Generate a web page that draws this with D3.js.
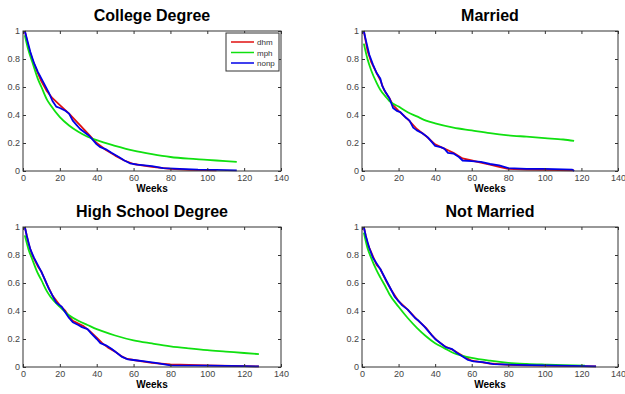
<!DOCTYPE html>
<html>
<head>
<meta charset="utf-8">
<script src="https://cdn.jsdelivr.net/npm/d3@7"></script>
<style>
  body { margin: 0; background: #fff; }
  text { font-family: Arial, "Liberation Sans", sans-serif; }
</style>
</head>
<body>
<script>
// survival curves: [week, share still unemployed]
var xTicks = [0, 20, 40, 60, 80, 100, 120, 140];
var yTicks = [0, 0.2, 0.4, 0.6, 0.8, 1];
var seriesNames = ['dhm', 'mph', 'nonp'];

var collegeDhm = [[1,1],[3,0.88],[5,0.8],[8,0.7],[10,0.64],[13,0.57],[16,0.52],[20,0.47],[25,0.41],[30,0.34],[35,0.27],[40,0.2],[45,0.15],[50,0.11],[55,0.075],[60,0.05],[70,0.03],[80,0.015],[90,0.008],[105,0.005]];
var collegeMph = [[1,0.97],[3,0.86],[5,0.78],[8,0.66],[10,0.6],[13,0.51],[15,0.47],[20,0.385],[25,0.325],[30,0.28],[35,0.245],[40,0.22],[50,0.18],[60,0.145],[70,0.12],[80,0.1],[90,0.088],[100,0.08],[110,0.07],[116,0.065]];
var collegeNonp = [[1,1],[2,0.95],[4,0.85],[6,0.77],[8,0.71],[10,0.66],[12,0.61],[14,0.56],[16,0.5],[18,0.46],[20,0.45],[23,0.43],[25,0.41],[27,0.36],[29,0.33],[31,0.3],[33,0.28],[36,0.25],[38,0.22],[40,0.19],[42,0.17],[45,0.155],[48,0.13],[52,0.1],[55,0.075],[58,0.055],[62,0.045],[70,0.035],[76,0.02],[85,0.015],[95,0.01],[105,0.008],[116,0.005]];

var marriedDhm = [[1,1],[3,0.86],[5,0.78],[8,0.7],[10,0.65],[12,0.58],[15,0.52],[17,0.47],[20,0.43],[25,0.37],[30,0.3],[35,0.25],[40,0.19],[45,0.16],[50,0.13],[55,0.09],[60,0.075],[65,0.06],[70,0.045],[75,0.03],[80,0.015],[90,0.01],[100,0.008],[116,0.005]];
var marriedMph = [[1,0.91],[3,0.8],[5,0.72],[8,0.63],[10,0.58],[13,0.53],[15,0.5],[20,0.46],[25,0.42],[30,0.39],[35,0.36],[40,0.34],[50,0.31],[60,0.29],[70,0.27],[80,0.255],[90,0.245],[100,0.235],[110,0.225],[116,0.215]];
var marriedNonp = [[1,1],[2,0.94],[4,0.83],[6,0.76],[8,0.7],[10,0.66],[11,0.61],[13,0.56],[15,0.52],[17,0.45],[19,0.43],[21,0.42],[24,0.38],[26,0.36],[28,0.31],[30,0.29],[33,0.27],[36,0.24],[38,0.21],[40,0.18],[43,0.17],[45,0.16],[47,0.13],[50,0.125],[53,0.1],[55,0.075],[60,0.07],[65,0.065],[70,0.05],[75,0.04],[80,0.02],[90,0.015],[100,0.015],[115,0.01],[116,0]];

var highDhm = [[1,1],[3,0.88],[5,0.8],[8,0.72],[10,0.68],[13,0.59],[16,0.51],[20,0.44],[23,0.4],[25,0.36],[27,0.33],[30,0.31],[33,0.29],[36,0.26],[40,0.21],[43,0.17],[46,0.14],[50,0.11],[53,0.08],[56,0.06],[60,0.05],[70,0.03],[80,0.018],[100,0.012],[120,0.006],[128,0.004]];
var highMph = [[1,0.94],[3,0.84],[5,0.77],[8,0.67],[10,0.62],[13,0.54],[15,0.5],[20,0.43],[25,0.37],[30,0.33],[35,0.3],[40,0.27],[50,0.225],[60,0.19],[70,0.168],[80,0.148],[90,0.133],[100,0.12],[110,0.11],[120,0.1],[128,0.092]];
var highNonp = [[1,1],[2,0.94],[4,0.84],[6,0.78],[8,0.73],[10,0.68],[12,0.62],[14,0.56],[16,0.51],[18,0.46],[21,0.43],[23,0.39],[25,0.35],[27,0.32],[30,0.3],[32,0.285],[35,0.27],[37,0.24],[40,0.2],[42,0.17],[45,0.155],[48,0.13],[51,0.1],[54,0.07],[57,0.055],[60,0.05],[66,0.04],[72,0.03],[80,0.012],[100,0.01],[120,0.006],[128,0.004]];

var singleDhm = [[1,1],[3,0.88],[5,0.82],[8,0.73],[10,0.7],[13,0.62],[16,0.55],[20,0.47],[25,0.41],[30,0.34],[35,0.28],[38,0.23],[41,0.19],[45,0.15],[50,0.12],[55,0.08],[60,0.045],[65,0.035],[70,0.025],[80,0.015],[90,0.012],[100,0.01],[110,0.008],[128,0.005]];
var singleMph = [[1,0.96],[3,0.85],[5,0.78],[8,0.69],[10,0.64],[13,0.57],[15,0.52],[20,0.43],[25,0.35],[30,0.28],[35,0.22],[40,0.17],[45,0.135],[50,0.1],[55,0.08],[60,0.065],[70,0.045],[80,0.03],[90,0.022],[100,0.017],[110,0.013],[122,0.01]];
var singleNonp = [[1,1],[2,0.94],[4,0.85],[6,0.78],[8,0.74],[10,0.7],[12,0.65],[14,0.6],[16,0.55],[18,0.5],[20,0.47],[22,0.44],[25,0.41],[27,0.38],[29,0.35],[31,0.33],[34,0.29],[36,0.26],[38,0.23],[40,0.2],[43,0.17],[46,0.14],[49,0.13],[52,0.1],[55,0.075],[58,0.05],[61,0.04],[66,0.035],[72,0.02],[85,0.015],[100,0.012],[115,0.008],[128,0.005]];

var panelTitles = ['College Degree', 'Married', 'High School Degree', 'Not Married'];
var panelSeries = [
  [collegeDhm, collegeMph, collegeNonp],
  [marriedDhm, marriedMph, marriedNonp],
  [highDhm, highMph, highNonp],
  [singleDhm, singleMph, singleNonp]
];

var colors = { dhm: '#e01010', mph: '#10e010', nonp: '#0000e8' };

// panel boxes (left, top, right, bottom) in page pixels
var boxes = [
  [23, 31, 281, 171],
  [362, 31, 618, 171],
  [23, 227, 281, 367],
  [362, 227, 618, 367]
];

var svg = d3.select('body').append('svg').attr('width', 625).attr('height', 394);

panelTitles.forEach(function(title, i) {
  var b = boxes[i];
  var x = d3.scaleLinear().domain([0, 140]).range([b[0], b[2]]);
  var y = d3.scaleLinear().domain([0, 1]).range([b[3], b[1]]);
  var g = svg.append('g');

  g.append('rect').attr('x', b[0]).attr('y', b[1])
    .attr('width', b[2] - b[0]).attr('height', b[3] - b[1])
    .attr('fill', '#fff');

  panelSeries[i].forEach(function(pts, k) {
    var name = seriesNames[k];
    // mph is a fitted curve, so draw it smooth; the other two stay jagged
    var line = d3.line()
      .x(function(d) { return x(d[0]); })
      .y(function(d) { return y(d[1]); })
      .curve(name === 'mph' ? d3.curveMonotoneX : d3.curveLinear);
    g.append('path').datum(pts)
      .attr('d', line)
      .attr('fill', 'none')
      .attr('stroke', colors[name])
      .attr('stroke-width', 1.8)
      .attr('stroke-linejoin', 'round');
  });

  // matlab style inward ticks on all four sides
  var fmt = function(d) { return String(d); };
  var ax = [
    g.append('g').attr('transform', 'translate(0,' + b[3] + ')')
      .call(d3.axisBottom(x).tickValues(xTicks).tickSize(-3).tickPadding(4).tickFormat(fmt)),
    g.append('g').attr('transform', 'translate(' + b[0] + ',0)')
      .call(d3.axisLeft(y).tickValues(yTicks).tickSize(-3).tickPadding(3).tickFormat(fmt)),
    g.append('g').attr('transform', 'translate(0,' + b[1] + ')')
      .call(d3.axisTop(x).tickValues(xTicks).tickSize(-3).tickFormat('')),
    g.append('g').attr('transform', 'translate(' + b[2] + ',0)')
      .call(d3.axisRight(y).tickValues(yTicks).tickSize(-3).tickFormat(''))
  ];
  ax.forEach(function(a) {
    a.select('.domain').remove();
    a.selectAll('line').attr('stroke', '#333');
    a.selectAll('text').attr('fill', '#444').style('font-size', '9px')
      .style('font-family', 'Arial, "Liberation Sans", sans-serif');
  });

  g.append('rect').attr('x', b[0]).attr('y', b[1])
    .attr('width', b[2] - b[0]).attr('height', b[3] - b[1])
    .attr('fill', 'none').attr('stroke', '#333').attr('stroke-width', 1);

  g.append('text').attr('x', (b[0] + b[2]) / 2).attr('y', b[1] - 10)
    .attr('text-anchor', 'middle').style('font-size', '16px').style('font-weight', 'bold')
    .text(title);

  g.append('text').attr('x', (b[0] + b[2]) / 2).attr('y', b[3] + 21)
    .attr('text-anchor', 'middle').style('font-size', '10px').style('font-weight', 'bold')
    .text('Weeks');

  if (i === 0) {
    var lg = g.append('g');
    lg.append('rect').attr('x', 226).attr('y', 33).attr('width', 53).attr('height', 38)
      .attr('fill', '#fff').attr('stroke', '#333').attr('stroke-width', 1);
    seriesNames.forEach(function(name, k) {
      var ly = 42 + k * 10.5;
      lg.append('line').attr('x1', 231).attr('x2', 254).attr('y1', ly).attr('y2', ly)
        .attr('stroke', colors[name]).attr('stroke-width', 1.5);
      lg.append('text').attr('x', 257).attr('y', ly + 3).style('font-size', '8px')
        .attr('fill', '#333').text(name);
    });
  }
});
</script>
</body>
</html>
